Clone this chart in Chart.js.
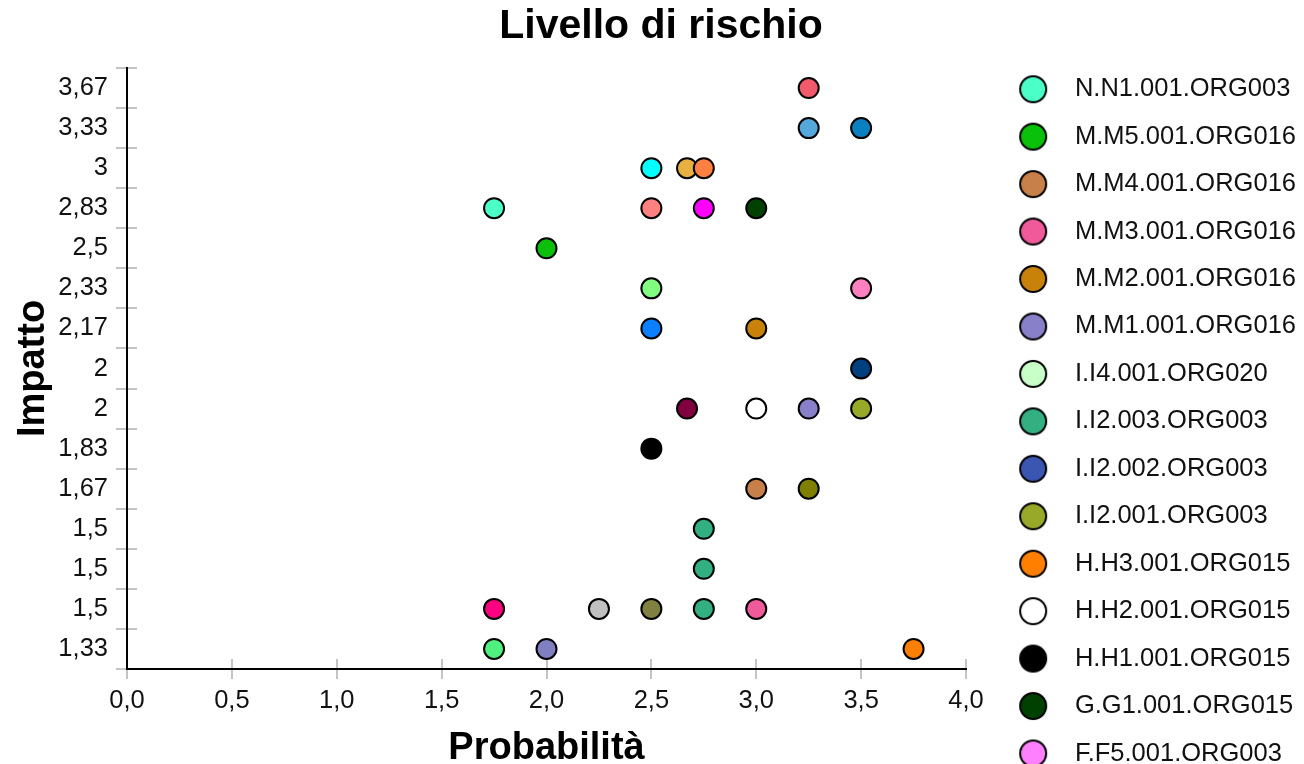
<!DOCTYPE html>
<html><head><meta charset="utf-8">
<script src="https://cdn.jsdelivr.net/npm/chart.js@4/dist/chart.umd.min.js"></script>
<style>html,body{margin:0;padding:0;background:#fff;overflow:hidden}#wrap{width:1304px;height:764px;position:relative}</style>
</head><body><div id="wrap"><canvas id="c"></canvas></div>
<script>
// ---- data ----
const yLabels = ['3,67','3,33','3','2,83','2,5','2,33','2,17','2','2','1,83','1,67','1,5','1,5','1,5','1,33'];

const seriesNames = [
  'N.N1.001.ORG003','M.M5.001.ORG016','M.M4.001.ORG016','M.M3.001.ORG016','M.M2.001.ORG016',
  'M.M1.001.ORG016','I.I4.001.ORG020','I.I2.003.ORG003','I.I2.002.ORG003','I.I2.001.ORG003',
  'H.H3.001.ORG015','H.H2.001.ORG015','H.H1.001.ORG015','G.G1.001.ORG015','F.F5.001.ORG003',
  'Serie 16','Serie 17','Serie 18','Serie 19','Serie 20','Serie 21','Serie 22','Serie 23','Serie 24',
  'Serie 25','Serie 26','Serie 27','Serie 28','Serie 29','Serie 30','Serie 31','Serie 32','Serie 33','Serie 34'
];
const seriesColors = [
  '#4affc8','#0ac00a','#c8804a','#f05a9a','#c8820a',
  '#8880c8','#c8ffc8','#32b082','#3a56b0','#98a828',
  '#ff8000','#ffffff','#000000','#004000','#ff80ff',
  '#f05a6a','#55a8dc','#0a80c0','#00ffff','#ff8040','#e8b040','#ff8080','#ff00ff','#80ff80',
  '#ff80c0','#0a80ff','#00407f','#800040','#808000','#ff0080','#c0c0c0','#808040','#50f080','#8080c0'
];
// probability (x) values per series
const seriesX = [
  [1.75],[2.0],[3.0],[3.0],[3.0],
  [3.25],[],[2.75,2.75,2.75],[],[3.5],
  [3.75],[3.0],[2.5],[3.0],[],
  [3.25],[3.25],[3.5],[2.5],[2.75],[2.67],[2.5],[2.75],[2.5],
  [3.5],[2.5],[3.5],[2.67],[3.25],[1.75],[2.25],[2.5],[1.75],[2.0]
];
// impact row (index into yLabels) per series
const seriesRow = [
  [3],[4],[10],[13],[6],
  [8],[],[11,12,13],[],[8],
  [14],[8],[9],[3],[],
  [0],[1],[1],[2],[2],[2],[3],[3],[5],
  [5],[6],[7],[8],[10],[13],[13],[13],[14],[14]
];
const LEGEND_COUNT = 15;

// ---- style ----
const FONT = "'Liberation Sans', Arial, Helvetica, sans-serif";
const GRID_GREY = '#c4c4c4';
const PAD = {top: 0, left: 16, right: -2, bottom: -40};

function swatch(color) {
  const c = document.createElement('canvas');
  c.width = 30; c.height = 30;
  const g = c.getContext('2d');
  g.beginPath(); g.arc(15, 15, 13, 0, Math.PI * 2);
  g.fillStyle = color; g.fill();
  g.lineWidth = 2; g.strokeStyle = '#000'; g.stroke();
  return c;
}
const swatches = seriesColors.map(swatch);

const datasets = seriesNames.map((name, i) => ({
  label: name,
  data: seriesX[i].map((x, k) => ({x: x, y: seriesRow[i][k]})),
  backgroundColor: seriesColors[i],
  borderColor: '#000',
  borderWidth: 2,
  pointRadius: 10,
  pointHoverRadius: 10,
  showLine: false
}));

const yCommon = {
  type: 'linear', min: -0.5, max: 14.5, reverse: true,
  afterBuildTicks: s => { s.ticks = yLabels.map((_, i) => ({value: i})); }
};
const xFmt = v => Number(v).toFixed(1).replace('.', ',');

new Chart(document.getElementById('c'), {
  type: 'scatter',
  data: {datasets},
  options: {
    responsive: true, maintainAspectRatio: false, animation: false, events: [],
    layout: {padding: PAD},
    scales: {
      y: Object.assign({}, yCommon, {
        position: 'left', weight: 1,
        afterFit: s => { s.width = 127 - PAD.left; },
        grid: {drawOnChartArea: false, drawTicks: true, tickLength: 11, color: GRID_GREY, lineWidth: 2, offset: true},
        border: {display: true, color: '#000', width: 2},
        ticks: {autoSkip: false, padding: 8, color: '#111', font: {family: FONT, size: 25.5}, callback: (v, i) => yLabels[i]},
        title: {display: true, text: 'Impatto', color: '#000', font: {family: FONT, size: 38, weight: 'bold', lineHeight: 1.2}, padding: {top: -4.8, bottom: 0}}
      }),
      y2: Object.assign({}, yCommon, {
        position: 'left', weight: 0,
        afterFit: s => { s.width = 0; },
        grid: {drawOnChartArea: false, drawTicks: true, tickLength: -10, color: GRID_GREY, lineWidth: 2, offset: true},
        border: {display: false},
        ticks: {display: false, autoSkip: false}
      }),
      x: {
        type: 'linear', position: 'bottom', weight: 1, min: 0, max: 4,
        afterFit: s => { s.height = 135; },
        ticks: {stepSize: 0.5, padding: 7, color: '#111', font: {family: FONT, size: 25.5}, callback: xFmt},
        grid: {drawOnChartArea: false, drawTicks: true, tickLength: 10, color: GRID_GREY, lineWidth: 2},
        border: {display: true, color: '#000', width: 2},
        title: {display: true, text: 'Probabilità', color: '#000', font: {family: FONT, size: 38, weight: 'bold', lineHeight: 1.2}, padding: {top: 0, bottom: 33}}
      },
      x2: {
        type: 'linear', position: 'bottom', weight: 0, min: 0, max: 4,
        afterFit: s => { s.height = 0; },
        ticks: {display: false, stepSize: 0.5},
        grid: {drawOnChartArea: false, drawTicks: true, tickLength: -10, color: GRID_GREY, lineWidth: 2},
        border: {display: false}
      },
      gap: {
        type: 'linear', position: 'right', weight: 0, display: true,
        grid: {display: false}, border: {display: false}, ticks: {display: false},
        afterFit: s => { s.width = Math.max(0, s.chart.width - PAD.right - s.chart.legend.width - 966); }
      }
    },
    plugins: {
      tooltip: {enabled: false},
      title: {display: true, text: 'Livello di rischio', color: '#000',
        font: {family: FONT, size: 41, weight: 'bold', lineHeight: 1.2}, padding: {top: 2.5, bottom: 16.3}},
      legend: {
        position: 'right', align: 'start', maxWidth: 600,
        title: {display: true, text: '', font: {size: 20, lineHeight: 1}, padding: {top: 34.5, bottom: 0}},
        labels: {
          usePointStyle: true, pointStyleWidth: 58, padding: 21.95, color: '#111',
          font: {family: FONT, size: 25.5},
          generateLabels: chart => Chart.defaults.plugins.legend.labels.generateLabels(chart)
            .map(it => Object.assign({}, it, {pointStyle: swatches[it.datasetIndex]})),
          filter: item => item.datasetIndex < LEGEND_COUNT
        }
      }
    }
  }
});
</script>
</body></html>
